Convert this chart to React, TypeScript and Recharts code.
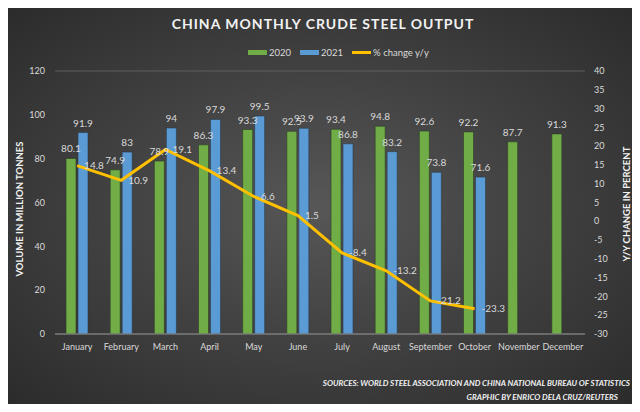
import React from "react"
import {
  ComposedChart,
  Bar,
  Line,
  XAxis,
  YAxis,
  CartesianGrid,
  LabelList,
} from "recharts"

const months = [
  "January", "February", "March", "April", "May", "June",
  "July", "August", "September", "October", "November", "December",
]
const output2020 = [80.1, 74.9, 78.9, 86.3, 93.3, 92.5, 93.4, 94.8, 92.6, 92.2, 87.7, 91.3]
const output2021 = [91.9, 83, 94, 97.9, 99.5, 93.9, 86.8, 83.2, 73.8, 71.6, null, null]
const pctChange = [14.8, 10.9, 19.1, 13.4, 6.6, 1.5, -8.4, -13.2, -21.2, -23.3, null, null]
const leftTicks = [0, 20, 40, 60, 80, 100, 120]
const rightTicks = [-30, -25, -20, -15, -10, -5, 0, 5, 10, 15, 20, 25, 30, 35, 40]

const GREEN = "#70ad47"
const BLUE = "#5b9bd5"
const YELLOW = "#ffc000"
const TEXT = "#d9d9d9"
const FONT = "Lato, 'Open Sans', sans-serif"

const data = months.map((m, i) => ({
  month: m,
  y2020: output2020[i],
  y2021: output2021[i],
  pct: pctChange[i],
}))

const tickStyle = { fill: TEXT, fontSize: 9, fontFamily: FONT }

export default function App() {
  return (
    <div
      style={{
        position: "relative",
        width: 640,
        height: 412,
        margin: -8,
        background: "radial-gradient(ellipse at 50% 50%, #575757 0%, #424242 45%, #2a2a2a 100%)",
        fontFamily: FONT,
        overflow: "hidden",
      }}
    >
      <div
        style={{
          position: "absolute",
          top: 15,
          left: 0,
          width: 646,
          textAlign: "center",
          color: "#f2f2f2",
          fontWeight: 700,
          fontSize: 14,
          letterSpacing: 1,
        }}
      >
        CHINA MONTHLY CRUDE STEEL OUTPUT
      </div>

      {/* legend */}
      <div
        style={{
          position: "absolute",
          top: 47,
          left: 248,
          display: "flex",
          alignItems: "center",
          fontSize: 9.5,
          color: TEXT,
        }}
      >
        <span style={{ width: 19, height: 5, background: GREEN, display: "inline-block", marginRight: 2 }} />
        <span style={{ marginRight: 9 }}>2020</span>
        <span style={{ width: 19, height: 5, background: BLUE, display: "inline-block", marginRight: 2 }} />
        <span style={{ marginRight: 9 }}>2021</span>
        <span style={{ width: 19, height: 3, background: YELLOW, display: "inline-block", marginRight: 2 }} />
        <span>% change y/y</span>
      </div>

      <ComposedChart
        width={640}
        height={412}
        data={data}
        margin={{ top: 71, right: 0, bottom: 48, left: 0 }}
        barSize={10}
        barGap={2}
      >
        <CartesianGrid vertical={false} stroke="#5e5e5e" strokeWidth={1} />
        <XAxis
          dataKey="month"
          tick={tickStyle}
          tickLine={false}
          axisLine={{ stroke: "#8a8a8a" }}
          tickMargin={4}
          height={30}
          interval={0}
        />
        <YAxis
          yAxisId="left"
          domain={[0, 120]}
          ticks={leftTicks}
          tick={tickStyle}
          tickLine={false}
          axisLine={false}
          tickMargin={4}
          width={55}
        />
        <YAxis
          yAxisId="right"
          orientation="right"
          domain={[-30, 40]}
          ticks={rightTicks}
          tick={tickStyle}
          tickLine={false}
          axisLine={false}
          tickMargin={3}
          width={55}
        />
        <Bar yAxisId="left" dataKey="y2020" fill={GREEN} stroke="#2e3a28" strokeWidth={0.6} isAnimationActive={false}>
          <LabelList dataKey="y2020" position="top" offset={6} fill={TEXT} fontSize={10} fontFamily={FONT} />
        </Bar>
        <Bar yAxisId="left" dataKey="y2021" fill={BLUE} stroke="#2c3a48" strokeWidth={0.6} isAnimationActive={false}>
          <LabelList dataKey="y2021" position="top" offset={6} fill={TEXT} fontSize={10} fontFamily={FONT} />
        </Bar>
        <Line
          yAxisId="right"
          dataKey="pct"
          stroke={YELLOW}
          strokeWidth={3}
          dot={false}
          activeDot={false}
          isAnimationActive={false}
        >
          <LabelList dataKey="pct" position="right" offset={7} fill={TEXT} fontSize={10} fontFamily={FONT} />
        </Line>
        <text
          x={19}
          y={209}
          transform="rotate(-90 19 209)"
          textAnchor="middle"
          dominantBaseline="central"
          fill="#f2f2f2"
          fontWeight={700}
          fontSize={9.5}
          fontFamily={FONT}
        >
          VOLUME IN MILLION TONNES
        </text>
        <text
          x={626}
          y={204}
          transform="rotate(-90 626 204)"
          textAnchor="middle"
          dominantBaseline="central"
          fill="#f2f2f2"
          fontWeight={700}
          fontSize={9.5}
          fontFamily={FONT}
        >
          Y/Y CHANGE IN PERCENT
        </text>
        <text x={630} y={386} textAnchor="end" fill="#f2f2f2" fontWeight={700} fontStyle="italic" fontSize={8} fontFamily={FONT}>
          SOURCES: WORLD STEEL ASSOCIATION AND CHINA NATIONAL BUREAU OF STATISTICS
        </text>
        <text x={618} y={400} textAnchor="end" fill="#f2f2f2" fontWeight={700} fontStyle="italic" fontSize={8} fontFamily={FONT}>
          GRAPHIC BY ENRICO DELA CRUZ/REUTERS
        </text>
      </ComposedChart>
    </div>
  )
}
